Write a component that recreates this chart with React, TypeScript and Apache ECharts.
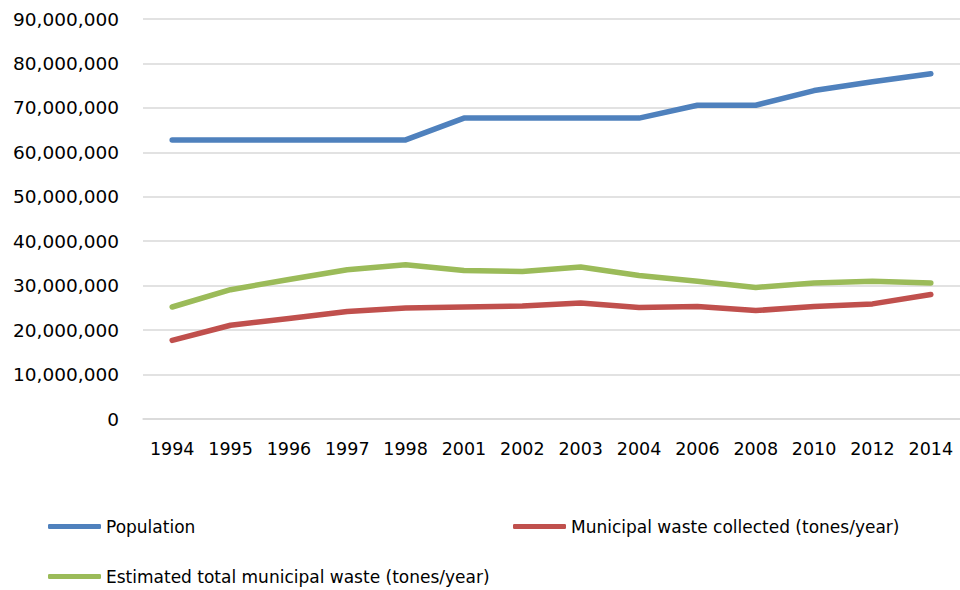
import React, { useEffect, useRef } from "react";
import * as echarts from "echarts";

const years = ["1994", "1995", "1996", "1997", "1998", "2001", "2002", "2003", "2004", "2006", "2008", "2010", "2012", "2014"];

const population = [62800000, 62800000, 62800000, 62800000, 62800000, 67700000, 67700000, 67700000, 67700000, 70600000, 70600000, 73900000, 75900000, 77700000];

const wasteCollected = [17700000, 21100000, 22600000, 24200000, 25000000, 25200000, 25400000, 26100000, 25100000, 25300000, 24400000, 25300000, 25900000, 28000000];

const wasteEstimated = [25200000, 29100000, 31400000, 33600000, 34700000, 33400000, 33200000, 34200000, 32300000, 31000000, 29600000, 30600000, 31000000, 30600000];

const seriesNames = ["Population", "Municipal waste collected (tones/year)", "Estimated total municipal waste (tones/year)"];

const FONT = "DejaVu Sans";

export default function App() {
  const ref = useRef<HTMLDivElement>(null);

  useEffect(() => {
    if (!ref.current) return;
    const chart = echarts.init(ref.current, undefined, { renderer: "svg" });

    const legendBase = {
      icon: "roundRect",
      itemWidth: 53,
      itemHeight: 5,
      itemGap: 4,
      padding: 0,
      textStyle: { fontFamily: FONT, fontSize: 17, color: "#000" },
    };

    const line = (name: string, data: number[], color: string) => ({
      name,
      type: "line",
      data,
      showSymbol: false,
      symbol: "none",
      itemStyle: { color },
      lineStyle: { color, width: 5.5, cap: "round", join: "round" },
    });

    chart.setOption({
      animation: false,
      backgroundColor: "#fff",
      grid: { left: 143, right: 0, top: 19, bottom: 171 },
      legend: [
        { ...legendBase, data: [seriesNames[0]], left: 48, top: 518 },
        { ...legendBase, data: [seriesNames[1]], left: 513, top: 518 },
        { ...legendBase, data: [seriesNames[2]], left: 48, top: 568 },
      ],
      xAxis: {
        type: "category",
        data: years,
        boundaryGap: true,
        axisLine: { show: true, lineStyle: { color: "#d9d9d9", width: 1.5 } },
        axisTick: { show: false },
        axisLabel: { fontFamily: FONT, fontSize: 17.5, color: "#000", margin: 21 },
      },
      yAxis: {
        type: "value",
        min: 0,
        max: 90000000,
        interval: 10000000,
        axisLine: { show: false },
        axisTick: { show: false },
        splitLine: { lineStyle: { color: "#d9d9d9", width: 1.5 } },
        axisLabel: {
          fontFamily: FONT,
          fontSize: 18.5,
          color: "#000",
          margin: 24,
          formatter: (v: number) => v.toLocaleString("en-US"),
        },
      },
      series: [
        line(seriesNames[0], population, "#4f81bd"),
        line(seriesNames[1], wasteCollected, "#c0504d"),
        line(seriesNames[2], wasteEstimated, "#9bbb59"),
      ],
    });

    return () => chart.dispose();
  }, []);

  return (
    <div
      ref={ref}
      style={{ position: "fixed", left: 0, top: 0, width: 960, height: 590, background: "#fff" }}
    />
  );
}
